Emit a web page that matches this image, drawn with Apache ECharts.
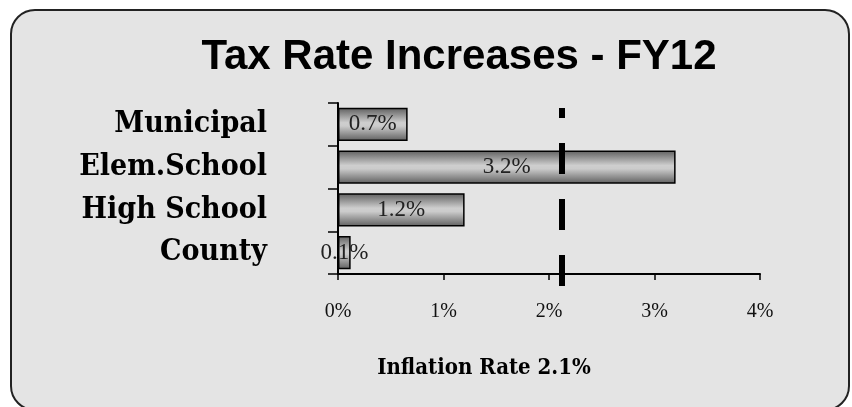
<!DOCTYPE html>
<html><head><meta charset="utf-8">
<script src="https://cdn.jsdelivr.net/npm/echarts@6/dist/echarts.min.js"></script>
<style>html,body{margin:0;padding:0;background:#fff}#c{width:852px;height:407px}</style>
</head><body><div id="c"></div>
<script>
const categories = ['Municipal', 'Elem.School', 'High School', 'County'];
const values = [0.66, 3.2, 1.2, 0.12];
const valueLabels = ['0.7%', '3.2%', '1.2%', '0.1%'];
const tickValues = [0, 1, 2, 3, 4];
const inflationRate = 2.12;

const chart = echarts.init(document.getElementById('c'), null, {renderer: 'canvas'});
const barGrad = new echarts.graphic.LinearGradient(0, 0, 0, 1, [
  {offset: 0, color: '#5e5e5e'}, {offset: 0.45, color: '#cecece'}, {offset: 0.55, color: '#cbcbcb'}, {offset: 1, color: '#5e5e5e'}
]);
chart.setOption({
  animation: false,
  backgroundColor: '#ffffff',
  graphic: [{
    type: 'rect', z: -10, silent: true,
    shape: {x: 11, y: 10, width: 838, height: 400, r: 24},
    style: {fill: '#e4e4e4', stroke: '#222', lineWidth: 2}
  }],
  title: [{
    text: 'Tax Rate Increases - FY12', left: 454, top: 31, textAlign: 'center',
    textStyle: {fontFamily: 'Liberation Sans', fontWeight: 'bold', fontSize: 42, color: '#000'}
  }, {
    text: 'Inflation Rate 2.1%', left: 479, top: 352, textAlign: 'center',
    textStyle: {fontFamily: 'DejaVu Serif Condensed', fontWeight: 'bold', fontSize: 22, color: '#000'}
  }],
  grid: {left: 338, right: 92, top: 103, bottom: 133, containLabel: false},
  xAxis: {
    type: 'value', min: 0, max: 4, interval: 1,
    axisLine: {show: true, lineStyle: {color: '#000', width: 2}},
    axisTick: {show: true, length: 6, lineStyle: {color: '#000', width: 1.5}},
    splitLine: {show: false},
    axisLabel: {margin: 28, color: '#111', fontFamily: 'Liberation Serif', fontSize: 20,
      formatter: v => tickValues.includes(v) ? v + '%' : ''}
  },
  yAxis: {
    type: 'category', data: categories, inverse: true,
    axisLine: {show: true, lineStyle: {color: '#000', width: 2}},
    axisTick: {show: true, length: 10, inside: false, alignWithLabel: false, lineStyle: {color: '#000', width: 1.5}},
    axisLabel: {margin: 71, color: '#000', fontFamily: 'DejaVu Serif Condensed', fontWeight: 'bold', fontSize: 30}
  },
  series: [{
    type: 'bar', data: values, barCategoryGap: '22%',
    itemStyle: {color: barGrad, borderColor: '#000', borderWidth: 1.5},
    label: {show: true, position: 'inside', color: '#222', fontFamily: 'Liberation Serif', fontSize: 23,
      formatter: p => valueLabels[p.dataIndex]},
    markLine: {
      silent: true, symbol: 'none', label: {show: false},
      lineStyle: {color: '#000', width: 6, type: [31, 25], dashOffset: 21},
      data: [[{xAxis: inflationRate, y: 108}, {xAxis: inflationRate, y: 287}]]
    }
  }]
});
</script></body></html>
